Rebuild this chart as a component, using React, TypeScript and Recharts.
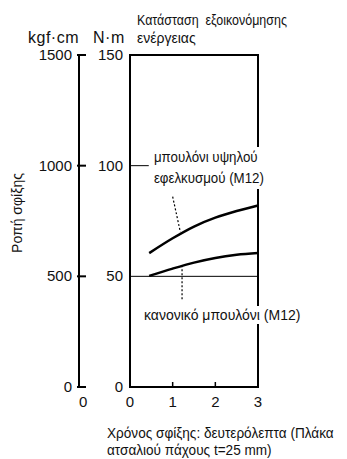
import React from 'react';
import { ComposedChart, Line, XAxis, YAxis, ReferenceLine, ReferenceArea } from 'recharts';

// tightening time (s) and torque (N·m)
const timeSec = [0.45, 1, 1.5, 2, 2.5, 3];
const highTension = [60.5, 67.2, 72.5, 76.5, 79.5, 82];
const normalBolt = [50.2, 53.5, 56.2, 58.3, 59.7, 60.5];

const xTicks = [0, 1, 2, 3];
const nmTicks = [0, 50, 100, 150];
const kgfTicks = [0, 500, 1000, 1500];

const FONT = '"Liberation Sans", Arial, sans-serif';

const rows = timeSec.map((t, i) => ({ t, high: highTension[i], normal: normalBolt[i], highKgf: highTension[i] * 10 }));

const YTick = (props: any) => {
    const { x, y, payload, inwardTick } = props;
    return (
        <g>
            <text x={x} y={y} dy={5} textAnchor="end" fontSize={15} fontFamily={FONT} fill="#111">{payload.value}</text>
            {inwardTick && <line x1={x + 5} x2={x + 14} y1={y} y2={y} stroke="#000" strokeWidth={2} />}
        </g>
    );
};

const XTick = (props: any) => {
    const { x, y, payload } = props;
    return (
        <g>
            <text x={x} y={y + 20} textAnchor="middle" fontSize={15} fontFamily={FONT} fill="#111">{payload.value}</text>
            {payload.value > 0 && payload.value < 3 && <line x1={x} x2={x} y1={y} y2={y - 5} stroke="#000" strokeWidth={1.5} />}
        </g>
    );
};

const txt: React.CSSProperties = { position: 'absolute', fontFamily: FONT, fontSize: 14, color: '#111', whiteSpace: 'nowrap', lineHeight: '18px' };

export default function App() {
    return (
        <div style={{ position: 'absolute', left: 0, top: 0, width: 347, height: 459, background: '#fff' }}>
            <ComposedChart width={347} height={459} data={rows} margin={{ top: 55, right: 89, bottom: 42, left: 0 }}>
                <XAxis dataKey="t" type="number" domain={[0, 3]} ticks={xTicks} height={30} tickSize={0} tickMargin={0}
                    axisLine={{ stroke: '#000', strokeWidth: 2 }} tick={<XTick />} />
                <YAxis yAxisId="a_nm" type="number" domain={[0, 150]} ticks={nmTicks} width={51} tickSize={0} tickMargin={7}
                    axisLine={{ stroke: '#000', strokeWidth: 2 }} tick={<YTick />} />
                <YAxis yAxisId="b_kgf" type="number" domain={[0, 1500]} ticks={kgfTicks} width={79} tickSize={0} tickMargin={7}
                    axisLine={{ stroke: '#000', strokeWidth: 2 }} tick={<YTick inwardTick />} />
                <ReferenceArea yAxisId="a_nm" x1={0} x2={3} y1={0} y2={150} fill="none" stroke="#000" strokeWidth={2} />
                <ReferenceLine yAxisId="a_nm" y={50} stroke="#000" strokeWidth={1} />
                <ReferenceLine yAxisId="a_nm" segment={[{ x: 0, y: 100 }, { x: 0.44, y: 100 }]} stroke="#000" strokeWidth={1} />
                <ReferenceLine yAxisId="a_nm" segment={[{ x: 1.0, y: 86 }, { x: 1.18, y: 70 }]} stroke="#000" strokeWidth={1.2} strokeDasharray="2 2" />
                <ReferenceLine yAxisId="a_nm" segment={[{ x: 1.22, y: 55 }, { x: 1.22, y: 39 }]} stroke="#000" strokeWidth={1.2} strokeDasharray="2 2" />
                <Line yAxisId="a_nm" dataKey="high" type="monotone" stroke="#000" strokeWidth={2.5} dot={false} isAnimationActive={false} />
                <Line yAxisId="a_nm" dataKey="normal" type="monotone" stroke="#000" strokeWidth={2.5} dot={false} isAnimationActive={false} />
                {/* same curve on the kgf·cm scale, invisible, so that axis is kept */}
                <Line yAxisId="b_kgf" dataKey="highKgf" type="monotone" stroke="none" dot={false} legendType="none" isAnimationActive={false} />
            </ComposedChart>

            <div style={{ ...txt, left: 137, top: 11, transform: 'scaleX(0.89)', transformOrigin: 'left' }}>Κατάσταση&nbsp; εξοικονόμησης</div>
            <div style={{ ...txt, left: 137, top: 29 }}>ενέργειας</div>
            <div style={{ ...txt, left: 28, top: 29, fontSize: 16, letterSpacing: 0.5 }}>kgf·cm</div>
            <div style={{ ...txt, left: 93, top: 29, fontSize: 16, letterSpacing: 0.5 }}>N·m</div>
            <div style={{ ...txt, left: 17, top: 213, transform: 'translate(-50%, -50%) rotate(-90deg)' }}>Ροπή σφίξης</div>
            <div style={{ ...txt, left: 152, top: 147, background: '#fff', padding: '0 2px', lineHeight: '21px', transform: 'scaleX(0.95)', transformOrigin: 'left' }}>
                μπουλόνι υψηλού<br />εφελκυσμού (M12)
            </div>
            <div style={{ ...txt, left: 142, top: 306, background: '#fff', padding: '0 2px' }}>κανονικό μπουλόνι (M12)</div>
            <div style={{ ...txt, left: 79, top: 393, fontSize: 15 }}>0</div>
            <div style={{ ...txt, left: 107, top: 424, transform: 'scaleX(0.97)', transformOrigin: 'left' }}>Χρόνος σφίξης: δευτερόλεπτα (Πλάκα</div>
            <div style={{ ...txt, left: 107, top: 441, transform: 'scaleX(0.97)', transformOrigin: 'left' }}>ατσαλιού πάχους t=25 mm)</div>
        </div>
    );
}
